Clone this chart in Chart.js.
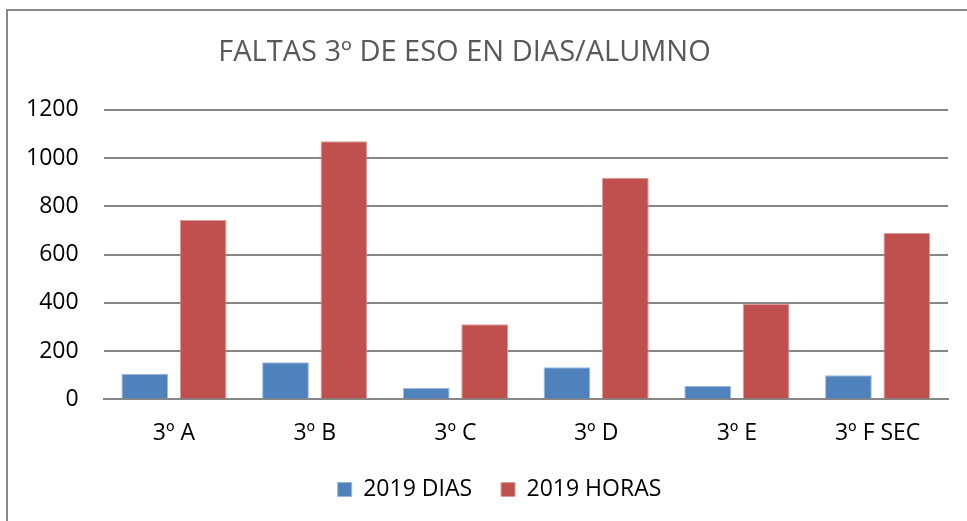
<!DOCTYPE html>
<html>
<head>
<meta charset="utf-8">
<script src="https://cdn.jsdelivr.net/npm/chart.js@4"></script>
<style>
  body { margin: 0; background: #fff; overflow: hidden; }
  #frame { position: absolute; left: 6px; top: 9px; width: 1000px; height: 600px; border: 2px solid #8a8a8a; box-sizing: border-box; }
  #grafico { position: absolute; left: 0; top: 0; }
</style>
</head>
<body>
<div id="frame"></div>
<canvas id="grafico" width="967" height="521"></canvas>
<script>
const grupos = ['3º A', '3º B', '3º C', '3º D', '3º E', '3º F SEC'];
const dias2019 = [106, 154, 47, 133, 56, 100];
const horas2019 = [743, 1070, 311, 918, 396, 689];
const ticksY = [0, 200, 400, 600, 800, 1000, 1200];

const fuente = "'Open Sans', sans-serif";

// el titulo y la leyenda del original no estan centrados en el mismo eje
const ajusteCentro = {
  id: 'ajusteCentro',
  afterLayout(chart) {
    const t = chart.titleBlock;
    const l = chart.legend;
    if (t) { t.left -= 10; t.right -= 10; }
    if (l) { l.left += 25; l.right += 25; l.top -= 10; l.bottom -= 10; }
  }
};

new Chart(document.getElementById('grafico'), {
  type: 'bar',
  data: {
    labels: grupos,
    datasets: [
      {
        label: '2019 DIAS',
        data: dias2019,
        backgroundColor: '#4f81bd',
        borderColor: '#9bb7dd',
        borderWidth: 1
      },
      {
        label: '2019 HORAS',
        data: horas2019,
        backgroundColor: '#c0504d',
        borderColor: '#dd9a98',
        borderWidth: 1
      }
    ]
  },
  options: {
    responsive: false,
    animation: false,
    layout: { padding: { left: 1, right: 19, top: 35, bottom: 0 } },
    datasets: { bar: { categoryPercentage: 0.83, barPercentage: 0.8 } },
    scales: {
      x: {
        grid: { display: false },
        border: { color: '#868686', width: 2 },
        ticks: { color: '#000', font: { family: fuente, size: 23 }, padding: 12 }
      },
      y: {
        min: 0,
        max: ticksY[ticksY.length - 1],
        afterBuildTicks: (s) => { s.ticks = ticksY.map(v => ({ value: v })); },
        grid: { color: '#868686', lineWidth: 2, drawTicks: false },
        border: { display: false },
        ticks: {
          color: '#000',
          font: { family: fuente, size: 23 },
          padding: 25,
          callback: (v) => String(v)
        }
      }
    },
    plugins: {
      title: {
        display: true,
        text: 'FALTAS 3º DE ESO EN DIAS/ALUMNO',
        color: '#595959',
        font: { family: fuente, size: 29, weight: 'normal' },
        padding: { top: 0, bottom: 40 }
      },
      legend: {
        position: 'bottom',
        labels: {
          color: '#000',
          font: { family: fuente, size: 23 },
          boxWidth: 14,
          boxHeight: 14,
          padding: 29
        }
      },
      tooltip: { enabled: false }
    }
  },
  plugins: [ajusteCentro]
});
</script>
</body>
</html>
